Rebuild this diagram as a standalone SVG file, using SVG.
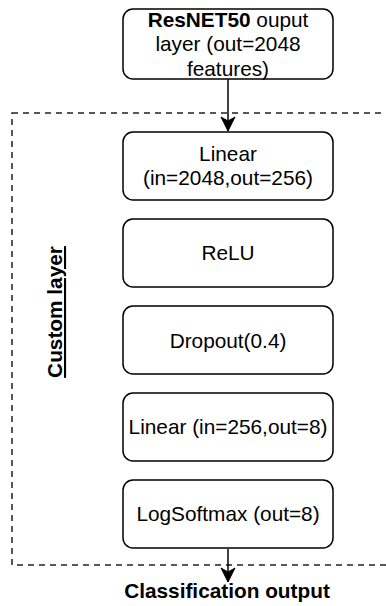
<svg xmlns="http://www.w3.org/2000/svg" width="386" height="606" viewBox="0 0 386 606">
<style>
.box{fill:#fff;stroke:#000;stroke-width:1.5}
.t{font-family:"Liberation Sans",Arial,sans-serif;font-size:20.8px;fill:#000;text-anchor:middle}
.b{font-weight:bold}
.edge{stroke:#000;stroke-width:1.5;fill:none}
</style>
<defs>
<marker id="arr" viewBox="-15 -8 16 16" refX="0" refY="0" markerWidth="16" markerHeight="16" markerUnits="userSpaceOnUse" orient="auto" overflow="visible">
<path d="M0,0 L-14,-7 L-10,0 L-14,7 Z" fill="#000" stroke="#000" stroke-width="1"/>
</marker>
</defs>
<rect x="0" y="0" width="386" height="606" fill="#fff"/>
<g id="custom-layer">
<rect x="12" y="113" width="390" height="452" fill="none" stroke="#222" stroke-width="1.5" stroke-dasharray="6 5"/>
<text class="t b" transform="translate(62,312) rotate(-90)" text-decoration="underline">Custom layer</text>
</g>
<g id="connectors">
<line class="edge" x1="228" y1="79" x2="228" y2="131" marker-end="url(#arr)"/>
<line class="edge" x1="228" y1="549" x2="228" y2="582" marker-end="url(#arr)"/>
</g>
<g id="resnet">
<rect class="box" x="123" y="9" width="210" height="70" rx="10"/>
<text class="t" x="228" y="27"><tspan class="b">ResNET50</tspan> ouput</text>
<text class="t" x="228" y="51">layer (out=2048</text>
<text class="t" x="228" y="76">features)</text>
</g>
<g id="linear1">
<rect class="box" x="123" y="132" width="210" height="68" rx="10"/>
<text class="t" x="228" y="161">Linear</text>
<text class="t" x="228" y="185">(in=2048,out=256)</text>
</g>
<g id="relu">
<rect class="box" x="123" y="219" width="210" height="68" rx="10"/>
<text class="t" x="228" y="260">ReLU</text>
</g>
<g id="dropout">
<rect class="box" x="123" y="306" width="210" height="68" rx="10"/>
<text class="t" x="228" y="347.5">Dropout(0.4)</text>
</g>
<g id="linear2">
<rect class="box" x="123" y="393" width="210" height="68" rx="10"/>
<text class="t" x="228" y="434">Linear (in=256,out=8)</text>
</g>
<g id="logsoftmax">
<rect class="box" x="123" y="480" width="210" height="68" rx="10"/>
<text class="t" x="228" y="521">LogSoftmax (out=8)</text>
</g>
<g id="classification">
<text class="t b" x="227" y="598">Classification output</text>
</g>
</svg>
